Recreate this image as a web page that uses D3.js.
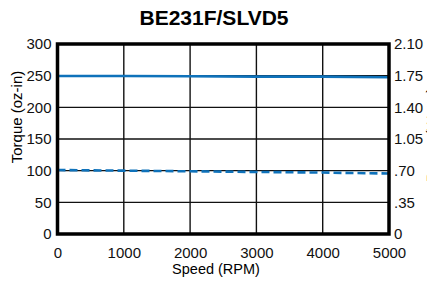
<!DOCTYPE html>
<html lang="en">
<head>
<meta charset="utf-8">
<script src="https://d3js.org/d3.v7.min.js"></script>
<style>
body { margin: 0; background: #fff; }
text { font-family: "Liberation Sans", Arial, sans-serif; }
</style>
</head>
<body>
<script>
// data
var speeds = [0, 1000, 2000, 3000, 4000, 5000];
var torqueCont = [249.5, 249.5, 249, 248.5, 248.5, 247.5];
var torquePeak = [101, 100, 99, 98, 97, 95.5];
var leftTicks = [0, 50, 100, 150, 200, 250, 300];
var rightTicks = [0, 0.35, 0.70, 1.05, 1.40, 1.75, 2.10];
var rightLabels = ["0", ".35", ".70", "1.05", "1.40", "1.75", "2.10"];
var xTicks = [0, 1000, 2000, 3000, 4000, 5000];

var svg = d3.select("body").append("svg")
	.attr("width", 427)
	.attr("height", 281);

var margin = {top: 44, right: 38, bottom: 47, left: 57.5},
	width = 427 - margin.left - margin.right,
	height = 281 - margin.top - margin.bottom;

var x = d3.scaleLinear().domain([0, 5000]).range([0, width]),
	y = d3.scaleLinear().domain([0, 300]).range([height, 0]),
	y2 = d3.scaleLinear().domain([0, 2.10]).range([height, 0]);

var g = svg.append("g")
	.attr("transform", "translate(" + margin.left + "," + margin.top + ")");

// grid
g.selectAll(".vgrid").data(xTicks.slice(1, -1)).enter().append("line")
	.attr("x1", function(d) { return x(d); })
	.attr("x2", function(d) { return x(d); })
	.attr("y1", 0).attr("y2", height)
	.attr("stroke", "#111").attr("stroke-width", 1.4);
g.selectAll(".hgrid").data(leftTicks.slice(1, -1)).enter().append("line")
	.attr("y1", function(d) { return y(d); })
	.attr("y2", function(d) { return y(d); })
	.attr("x1", 0).attr("x2", width)
	.attr("stroke", "#111").attr("stroke-width", 1.4);

// lines
var line = function(vals) {
	return d3.line()
		.x(function(d, i) { return x(speeds[i]); })
		.y(function(d) { return y(d); })(vals);
};
g.append("path").attr("d", line(torqueCont))
	.attr("fill", "none").attr("stroke", "#0f72ba").attr("stroke-width", 2.6);
g.append("path").attr("d", line(torquePeak))
	.attr("fill", "none").attr("stroke", "#0f72ba").attr("stroke-width", 2.6)
	.attr("stroke-dasharray", "8,4");

// frame
g.append("rect").attr("width", width).attr("height", height)
	.attr("fill", "none").attr("stroke", "#000").attr("stroke-width", 3.5);

// axes
g.append("g")
	.attr("transform", "translate(0," + height + ")")
	.call(d3.axisBottom(x).tickValues(xTicks).tickSize(0).tickPadding(13).tickFormat(d3.format("d")))
	.call(function(s) { s.select(".domain").remove(); })
	.selectAll("text").attr("font-size", 15).attr("fill", "#111");

g.append("g")
	.call(d3.axisLeft(y).tickValues(leftTicks).tickSize(0).tickPadding(6))
	.call(function(s) { s.select(".domain").remove(); })
	.selectAll("text").attr("font-size", 15).attr("fill", "#111");

g.append("g")
	.attr("transform", "translate(" + width + ",0)")
	.call(d3.axisRight(y2).tickValues(rightTicks).tickSize(0).tickPadding(5)
		.tickFormat(function(d, i) { return rightLabels[i]; }))
	.call(function(s) { s.select(".domain").remove(); })
	.selectAll("text").attr("font-size", 15).attr("fill", "#111");

// titles
svg.append("text")
	.attr("x", 214).attr("y", 25)
	.attr("text-anchor", "middle")
	.attr("font-size", 21).attr("font-weight", "bold")
	.text("BE231F/SLVD5");

svg.append("text")
	.attr("x", 216).attr("y", 274)
	.attr("text-anchor", "middle")
	.attr("font-size", 14.5)
	.text("Speed (RPM)");

svg.append("text")
	.attr("transform", "translate(22,117) rotate(-90)")
	.attr("text-anchor", "middle")
	.attr("font-size", 15)
	.text("Torque (oz-in)");

// right axis title sits mostly past the edge, as in the reference
svg.append("text")
	.attr("transform", "translate(437,135) rotate(-90)")
	.attr("text-anchor", "middle")
	.attr("font-size", 15)
	.text("Power (Watts)");
</script>
</body>
</html>
